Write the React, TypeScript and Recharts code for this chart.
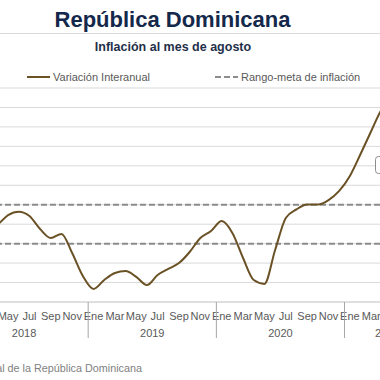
import { LineChart, Line, XAxis, YAxis, ReferenceLine } from 'recharts';

const meses = ['Ene', 'Feb', 'Mar', 'Abr', 'May', 'Jun', 'Jul', 'Ago', 'Sep', 'Oct', 'Nov', 'Dic'];
const anios = ['2018', '2019', '2020', '2021'];

// variación interanual del IPC (%)
const inflacion2018 = [4.2, 4.1, 3.9, 4.0, 4.47, 4.64, 4.42, 3.75, 3.29, 3.5, 2.52, 1.34];
const inflacion2019 = [0.67, 1.13, 1.49, 1.59, 1.29, 0.87, 1.39, 1.7, 2.0, 2.57, 3.29, 3.65];
const inflacion2020 = [4.16, 3.55, 2.26, 1.13, 0.93, 2.67, 4.32, 4.76, 5.01, 5.01, 5.24, 5.71];
const inflacion2021 = [6.48, 7.61, 8.79, 9.92, 10.48, 9.3, 8.7, 7.8];
const seriesPorAnio = [inflacion2018, inflacion2019, inflacion2020, inflacion2021];

const ticksY = [1, 2, 3, 4, 5, 6, 7, 8, 9, 10, 11];
const metaInferior = 3;
const metaSuperior = 5;

const data = anios.flatMap((anio, a) =>
  seriesPorAnio[a].map((valor, m) => ({
    key: `${meses[m]} ${anio}`,
    mes: m,
    anio: a,
    valor,
  }))
);

const PLOT_W = 470;
const BAND = PLOT_W / data.length;
const LINE_COLOR = '#6b5226';
const TEXT_GRAY = '#595959';

function MonthTick(props: any) {
  const { x, y, index } = props;
  const row = data[index];
  if (!row) return null;
  const left = x - BAND / 2;
  const count = seriesPorAnio[row.anio].length;
  return (
    <g>
      {row.mes % 2 === 0 && (
        <text x={x} y={y + 18} textAnchor="middle" fontSize={11} fill={TEXT_GRAY}>
          {meses[row.mes]}
        </text>
      )}
      {row.mes === 0 && (
        <>
          <line x1={left} x2={left} y1={y} y2={y + 36} stroke="#a6a6a6" strokeWidth={1} />
          <text x={left + (count * BAND) / 2} y={y + 35} textAnchor="middle" fontSize={11} fill={TEXT_GRAY}>
            {anios[row.anio]}
          </text>
        </>
      )}
    </g>
  );
}

export default function App() {
  return (
    <div
      style={{
        position: 'relative',
        width: 380,
        height: 380,
        overflow: 'hidden',
        background: '#fff',
        fontFamily: '"Liberation Sans", Arial, sans-serif',
      }}
    >
      <style>{`body{margin:0}`}</style>
      <div style={{ position: 'absolute', left: -40, top: 0 }}>
        <LineChart
          width={480}
          height={380}
          data={data}
          margin={{ top: 88, right: 10, bottom: 48, left: 0 }}
        >
          <XAxis
            dataKey="key"
            scale="band"
            height={30}
            interval={0}
            tickLine={false}
            tickSize={0}
            tickMargin={0}
            axisLine={{ stroke: '#bfbfbf' }}
            tick={<MonthTick />}
          />
          <YAxis
            width={0}
            domain={[0, 11]}
            ticks={ticksY}
            tick={false}
            tickLine={false}
            axisLine={false}
          />
          {ticksY.map((v) => (
            <ReferenceLine key={v} y={v} stroke="#d9d9d9" strokeWidth={1} />
          ))}
          <ReferenceLine y={metaSuperior} stroke="#8c8c8c" strokeWidth={2} strokeDasharray="6 3" />
          <ReferenceLine y={metaInferior} stroke="#8c8c8c" strokeWidth={2} strokeDasharray="6 3" />
          <Line
            type="monotone"
            dataKey="valor"
            stroke={LINE_COLOR}
            strokeWidth={2}
            dot={false}
            isAnimationActive={false}
          />
        </LineChart>
      </div>
      <svg
        width={380}
        height={380}
        style={{ position: 'absolute', left: 0, top: 0, pointerEvents: 'none' }}
        fontFamily='"Liberation Sans", Arial, sans-serif'
      >
        <text x={172.5} y={27} textAnchor="middle" fontSize={22} fontWeight="bold" fill="#14284b">
          República Dominicana
        </text>
        <line x1={0} x2={380} y1={33.5} y2={33.5} stroke="#d9d9d9" strokeWidth={1} />
        <text x={173} y={51} textAnchor="middle" fontSize={12.5} fontWeight="bold" fill="#1f2f4a">
          Inflación al mes de agosto
        </text>
        <line x1={27} x2={50} y1={77} y2={77} stroke={LINE_COLOR} strokeWidth={2} />
        <text x={53} y={81} fontSize={11} fill={TEXT_GRAY}>
          Variación Interanual
        </text>
        <line x1={215} x2={238} y1={77} y2={77} stroke="#8c8c8c" strokeWidth={2} strokeDasharray="6 3" />
        <text x={241} y={81} fontSize={11} fill={TEXT_GRAY}>
          Rango-meta de inflación
        </text>
        <rect x={375.5} y={156.5} width={50} height={17} rx={3} fill="#fff" stroke="#8c8c8c" strokeWidth={1} />
        <text x={142} y={372} textAnchor="end" fontSize={10.8} fill="#7f7f7f">
          Fuente: Banco Central de la República Dominicana
        </text>
      </svg>
    </div>
  );
}
